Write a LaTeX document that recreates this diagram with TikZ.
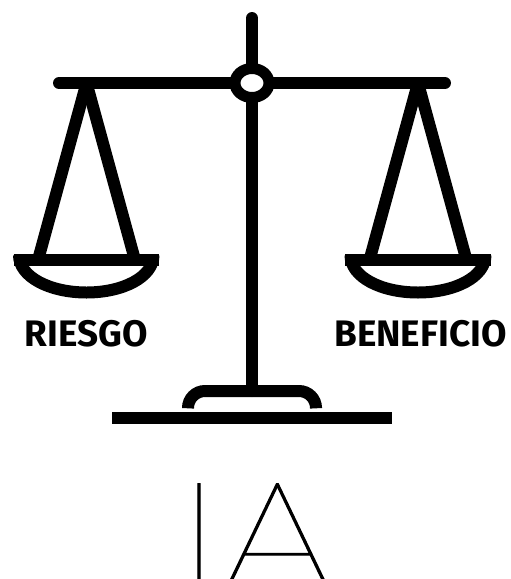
\documentclass[tikz,border=0pt]{standalone}
\usepackage{fontspec}
\newfontfamily\labelfont{Fira Sans}[UprightFont=* Bold]
\newfontfamily\thinfont{Lato}[UprightFont=* Thin, FakeStretch=1.15, FakeBold=0.8]

\begin{document}
\begin{tikzpicture}[x=0.02cm, y=-0.02cm]
	\tikzstyle{bar} = [line width=0.24cm, black]
	\tikzstyle{label} = [inner sep=0, anchor=base, font=\labelfont\fontsize{21}{21}\selectfont]
	\useasboundingbox (0, 0) rectangle (511, 579);
	\coordinate (T0) at (252, 18);
	\coordinate (R0) at (252, 83);
	\coordinate (S0) at (252, 391);
	\coordinate (E0) at (59, 83);
	\coordinate (E1) at (445, 83);
	\coordinate (A0) at (86.5, 83);
	\coordinate (A1) at (418, 83);
	\coordinate (L0) at (38, 260);
	\coordinate (L1) at (135, 260);
	\coordinate (L2) at (369.5, 260);
	\coordinate (L3) at (466.5, 260);
	\coordinate (P0) at (13.5, 260);
	\coordinate (P1) at (159, 260);
	\coordinate (P2) at (345, 260);
	\coordinate (P3) at (490.5, 260);
	\coordinate (B0) at (112, 417.5);
	\coordinate (B1) at (392, 417.5);
	\coordinate (C0) at (188, 407);
	\coordinate (C1) at (316, 407);
	\draw [bar, line cap=round] (T0)--(S0);
	\draw [bar, line cap=round] (E0)--(E1);
	\draw [line width=0.22cm, fill=white] (R0) ellipse (17 and 14.5);
	\draw [bar] (A0)--(L0);
	\draw [bar] (A0)--(L1);
	\draw [bar] (A1)--(L2);
	\draw [bar] (A1)--(L3);
	\draw [bar] (P0)--(P1);
	\draw [bar] (P2)--(P3);
	\draw [bar] (19, 255) .. controls (19, 277) and (50, 292.5) .. (86.5, 292.5) .. controls (123, 292.5) and (153.5, 277) .. (153.5, 255);
	\draw [bar] (350.5, 255) .. controls (350.5, 277) and (381, 292.5) .. (418, 292.5) .. controls (455, 292.5) and (485.5, 277) .. (485.5, 255);
	\draw [bar] (B0)--(B1);
	\draw [bar, rounded corners=0.34cm] (C0) |- (S0) -| (C1);
	\node (N0) [label] at (86, 346) {RIESGO};
	\node (N1) [label] at (420.5, 346) {BENEFICIO};
	\node (N2) [inner sep=0, anchor=base west, font=\thinfont\fontsize{88}{88}\selectfont] at (177, 592) {IA};
\end{tikzpicture}
\end{document}
